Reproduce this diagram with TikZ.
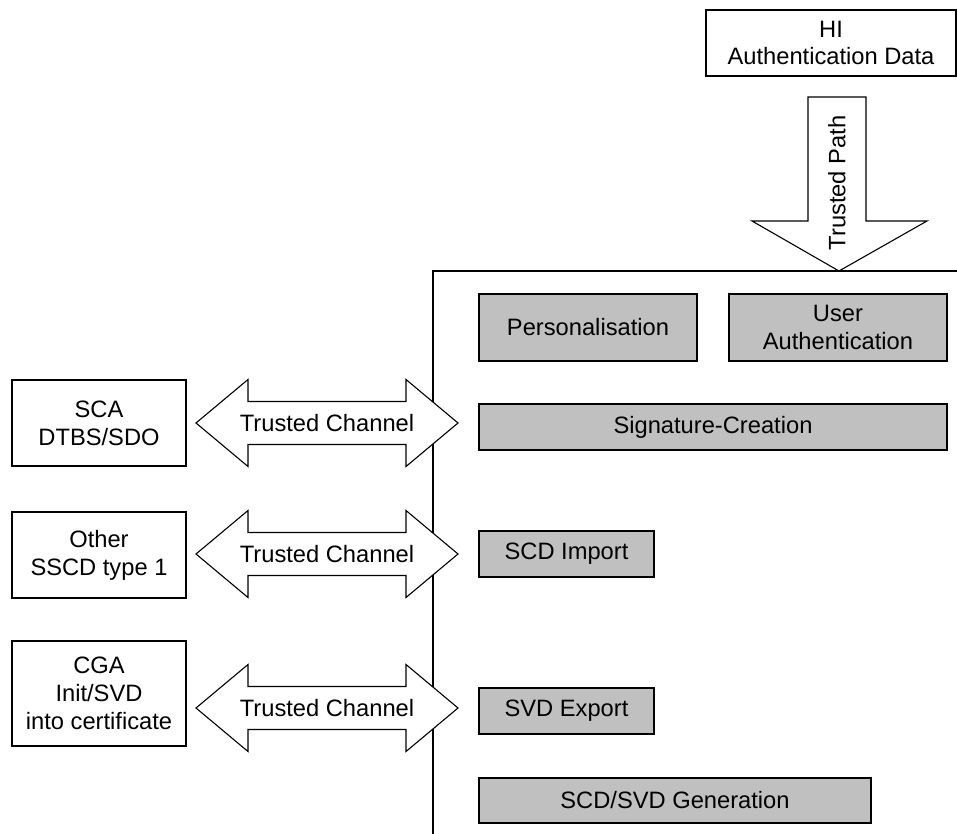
\documentclass[tikz,border=0pt]{standalone}
\usepackage{fontspec}
\setmainfont{Liberation Sans}
\usepackage{tikz}
\usetikzlibrary{positioning}
\usepackage{xcolor}
\definecolor{funcgray}{HTML}{C0C0C0}

\tikzset{
    extbox/.style={draw, line width=1.1pt, minimum width=174pt, inner sep=0pt, align=center},
    funcbox/.style={draw, line width=1.1pt, fill=funcgray, inner sep=0pt, align=center},
    blockarrow/.style={draw, line width=1.1pt, fill=white, line join=miter}
}

\begin{document}
\begin{tikzpicture}[x=1pt, y=-1pt, font=\fontsize{23.7}{27.8}\selectfont]
    \useasboundingbox (0,0) rectangle (957,834);

    % Fronteira do TOE
    \draw[line width=1.4pt] (957,271) -- (433,271) -- (433,834);

    % Dados de autenticacao e caminho confiavel
    \node[draw, line width=1.1pt, minimum width=250pt, minimum height=66pt, inner sep=0pt, align=center] (hiauth) at (831,43) {HI\\Authentication Data};
    \draw[blockarrow] (808,97) -- (866,97) -- (866,221) -- (927,221) -- (839,271)
        -- (752,221) -- (808,221) -- cycle;
    \node[rotate=90] (tpath) at (837,183) {Trusted Path};

    % Funcoes internas
    \node[funcbox, minimum width=218pt, minimum height=67pt] (pers) at (588,327.5) {Personalisation};
    \node[funcbox, minimum width=218pt, minimum height=67pt] (userauth) at (838,327.5) {User\\Authentication};
    \node[funcbox, minimum width=468pt, minimum height=46pt] (sigcreate) at (713,427) {Signature-Creation};
    \node[funcbox, minimum width=175pt, minimum height=46pt] (scdimport) at (566.5,554) {SCD Import};
    \node[funcbox, minimum width=175pt, minimum height=46pt] (svdexport) at (566.5,711) {SVD Export};
    \node[funcbox, minimum width=392pt, minimum height=45pt] (scdgen) at (675,800.5) {SCD/SVD Generation};

    % Entidades externas
    \node[extbox, minimum height=86pt] (sca) at (99,423) {SCA\\DTBS/SDO};
    \node[extbox, minimum height=86pt] (otherssd) at (99,555) {Other\\SSCD type 1};
    \node[extbox, minimum height=105pt] (cga) at (99,693.5) {CGA\\Init/SVD\\into certificate};

    % Canais confiaveis
    \foreach \yc/\nm in {423/chsca, 554/chother, 708/chcga} {
        \draw[blockarrow] (196,\yc) -- (248,\yc-43.5) -- (248,\yc-21.5) -- (406,\yc-21.5)
            -- (406,\yc-43.5) -- (458,\yc) -- (406,\yc+43.5) -- (406,\yc+21.5)
            -- (248,\yc+21.5) -- (248,\yc+43.5) -- cycle;
        \node (\nm) at (327,\yc) {Trusted Channel};
    }
\end{tikzpicture}
\end{document}
